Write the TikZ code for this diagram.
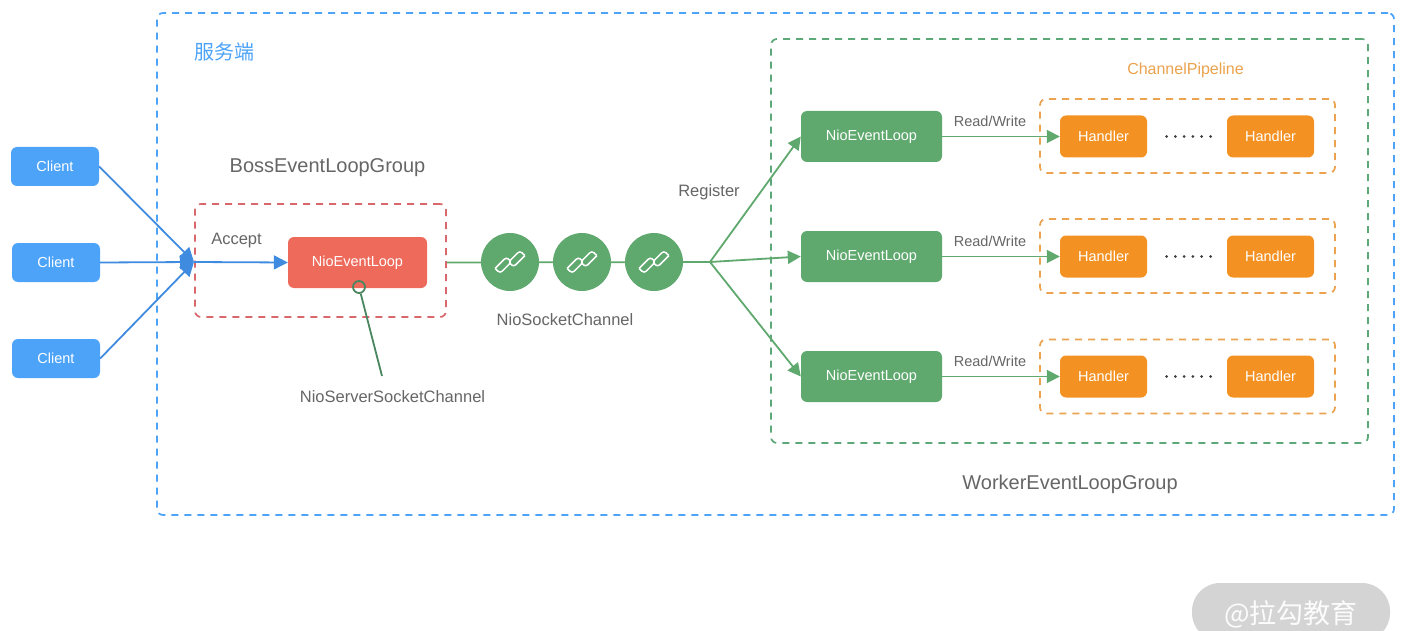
\documentclass[tikz,border=0pt]{standalone}
\usepackage{fontspec}
\setmainfont{Liberation Sans}
\newfontfamily\cjk{Noto Sans CJK SC}
\usepackage{xcolor}
\usepackage{tikz}
\usetikzlibrary{arrows.meta}

\definecolor{clientblue}{HTML}{4CA3F8}
\definecolor{arrowblue}{HTML}{3F8BE0}
\definecolor{bossred}{HTML}{EE6A5B}
\definecolor{dashred}{HTML}{D8686C}
\definecolor{loopgreen}{HTML}{5FA96E}
\definecolor{dashgreen}{HTML}{5DA878}
\definecolor{handlerorange}{HTML}{F39222}
\definecolor{dashorange}{HTML}{EBA34F}
\definecolor{labelgray}{HTML}{666666}
\definecolor{markgray}{HTML}{D4D4D4}

\tikzset{
	box/.style={rounded corners=6pt, text=white, font=\fontsize{14.5}{14.5}\selectfont, inner sep=0pt},
	clientbox/.style={box, fill=clientblue, minimum width=88pt, minimum height=39pt},
	bossbox/.style={box, fill=bossred, minimum width=139pt, minimum height=51pt},
	loopbox/.style={box, fill=loopgreen, minimum width=141pt, minimum height=51pt},
	handlerbox/.style={box, fill=handlerorange, minimum width=87pt, minimum height=42pt},
	group/.style={rounded corners=6pt, line width=1.7pt, dash pattern=on 7pt off 6pt, inner sep=0pt},
	chanball/.style={circle, fill=loopgreen, minimum size=58pt, inner sep=0pt},
	greenline/.style={draw=loopgreen, line width=1.8pt},
	greenarrow/.style={greenline, -{Triangle[length=13pt,width=13pt]}},
	bluearrow/.style={draw=arrowblue, line width=1.8pt, -{Triangle[length=14pt,width=14pt]}},
	biglabel/.style={text=labelgray, font=\fontsize{20}{20}\selectfont},
	midlabel/.style={text=labelgray, font=\fontsize{16.5}{16.5}\selectfont},
	smalllabel/.style={text=labelgray, font=\fontsize{14.5}{14.5}\selectfont},
	linkicon/.pic={
		\draw[white, line width=1.5pt, rounded corners=3pt, rotate=45]
			(-15,-6) -- (1,-6) -- (1,1) -- (-4,1);
		\draw[white, line width=1.5pt, rounded corners=3pt, rotate=45]
			(15,6) -- (-1,6) -- (-1,-1) -- (4,-1);
		\draw[white, line width=1.5pt, rounded corners=3pt, rotate=45]
			(-4,1) -- (-15,1) -- (-15,-6);
		\draw[white, line width=1.5pt, rounded corners=3pt, rotate=45]
			(4,-1) -- (15,-1) -- (15,6);
	}
}

\begin{document}
\begin{tikzpicture}[x=1pt, y=-1pt]
	\clip (0,0) rectangle (1402,631);
	\fill[white] (0,0) rectangle (1402,631);

	% groups
	\node[group, draw=clientblue, minimum width=1237pt, minimum height=502pt] (server) at (775.5,264) {};
	\node[group, draw=dashred, minimum width=251pt, minimum height=113pt] (bossgroup) at (320.5,260.5) {};
	\node[group, draw=dashgreen, minimum width=597pt, minimum height=404pt] (workergroup) at (1069.5,241) {};
	\foreach \y/\name in {136/pipea, 256/pipeb, 376.5/pipec}
		\node[group, draw=dashorange, minimum width=295pt, minimum height=74pt] (\name) at (1187.5,\y) {};

	% clients
	\node[clientbox] (clienta) at (55,166.5) {Client};
	\node[clientbox] (clientb) at (56,262.5) {Client};
	\node[clientbox] (clientc) at (56,358.5) {Client};

	% boss side
	\coordinate (bossin) at (194,262);
	\node[bossbox] (bossloop) at (357.5,262.5) {NioEventLoop};
	\node[circle, draw=dashgreen!80!black, line width=1.8pt, minimum size=12pt, inner sep=0pt] (bossport) at (359,287) {};
	\coordinate (portend) at (382,376);
	\draw[draw=dashgreen!80!black, line width=1.8pt] (bossport) -- (portend);

	\foreach \from in {clienta,clientb,clientc}
		\draw[bluearrow] (\from.east) -- (bossin);
	\draw[bluearrow] (bossin) -- (bossloop.west);

	% channels
	\coordinate (split) at (710,262);
	\draw[greenline] (bossgroup.east |- bossloop) -- (split);
	\foreach \x/\name in {510/chana, 582/chanb, 654/chanc} {
		\node[chanball] (\name) at (\x,262) {};
		\pic at (\name) {linkicon};
	}

	% workers
	\foreach \y/\z/\name in {136.5/137/a, 256.5/257/b, 376.5/377/c} {
		\node[loopbox] (loop\name) at (871.5,\y) {NioEventLoop};
		\node[handlerbox] (first\name) at (1103.5,\y) {Handler};
		\node[handlerbox] (last\name) at (1270.5,\y) {Handler};
		\draw[greenarrow] (split) -- (loop\name.west);
		\draw[greenarrow] (loop\name.east) -- (first\name.west);
		\node[smalllabel] at (990,\y-15.5) {Read/Write};
		\foreach \d in {0,...,5}
			\fill[labelgray!60!black] (1166.5+\d*8.8,\y) circle (1.5);
	}

	% labels
	\node[text=clientblue, font=\cjk\fontsize{20}{20}\selectfont] (serverlabel) at (224,52) {服务端};
	\node[biglabel] (bosslabel) at (327.5,167.5) {BossEventLoopGroup};
	\node[biglabel] (workerlabel) at (1070,484) {WorkerEventLoopGroup};
	\node[midlabel] (portlabel) at (392.5,397) {NioServerSocketChannel};
	\node[midlabel] (acceptlabel) at (236.5,241) {Accept};
	\node[midlabel] (registerlabel) at (709,192) {Register};
	\node[midlabel] (chanlabel) at (565,319.5) {NioSocketChannel};
	\node[text=dashorange, font=\fontsize{16}{16}\selectfont] (pipelabel) at (1185.5,70) {ChannelPipeline};

	% watermark
	\node[fill=markgray, rounded corners=28pt, minimum width=198pt, minimum height=58pt, text=white!92!markgray, font=\cjk\fontsize{27}{27}\selectfont, inner sep=0pt, text depth=0pt] (mark) at (1291,612) {@拉勾教育};
\end{tikzpicture}
\end{document}
